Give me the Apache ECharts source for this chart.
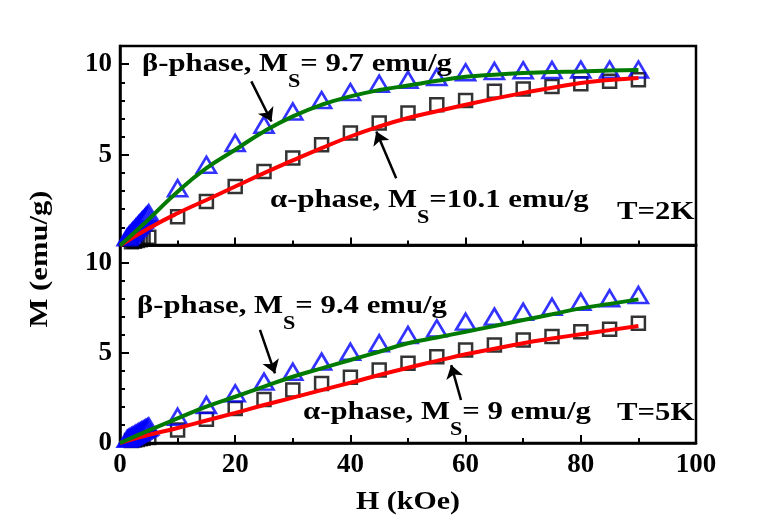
<!DOCTYPE html>
<html><head><meta charset="utf-8">
<script src="https://cdn.jsdelivr.net/npm/echarts@6/dist/echarts.min.js"></script>
<style>html,body{margin:0;padding:0;background:#fff}#c{width:767px;height:529px}</style>
</head><body><div id="c"></div>
<script>
// ---- data ----
const fieldH = [5,10,15,20,25,30,35,40,45,50,55,60,65,70,75,80,85,90];
const fitH = [0,5,10,15,20,25,30,35,40,45,50,55,60,65,70,75,80,85,90];
const lowHBeta = [1.25,1.5,1.75,2,2.25,2.5,2.75,3,3.25,3.5,3.75,4,4.25,4.5,4.75];
const lowHAlpha = [2,2.5,3,3.5,4];

// T = 2K
const beta2K = [1.78,3.16,4.45,5.65,6.66,7.39,8.02,8.46,8.92,9.14,9.29,9.55,9.62,9.66,9.68,9.7,9.7,9.7];
const alpha2K = [0.45,1.59,2.42,3.25,4.08,4.82,5.55,6.2,6.75,7.3,7.76,8.0,8.5,8.63,8.77,8.92,9.05,9.14];
const betaLow2K = [0.45,0.53,0.62,0.71,0.8,0.89,0.98,1.07,1.16,1.25,1.34,1.42,1.51,1.6,1.69];
const alphaLow2K = [0.2,0.24,0.28,0.32,0.36];
const betaFit2K = [0,1.45,2.97,4.26,5.28,6.29,7.12,7.76,8.22,8.57,8.82,9.08,9.3,9.42,9.51,9.57,9.6,9.65,9.68];
const alphaFit2K = [0,0.95,1.78,2.51,3.25,3.99,4.69,5.37,6.01,6.56,7.03,7.4,7.76,8.1,8.41,8.7,8.96,9.12,9.24];

// T = 5K
const beta5K = [0.91,1.46,2.11,2.76,3.41,3.96,4.52,5.07,5.54,6.0,6.37,6.74,7.02,7.29,7.57,7.85,8.04,8.22];
const alpha5K = [0.3,0.72,1.32,1.92,2.42,2.94,3.31,3.65,4.06,4.43,4.79,5.17,5.44,5.72,5.91,6.18,6.32,6.65];
const betaLow5K = [0.23,0.27,0.32,0.36,0.41,0.45,0.5,0.55,0.59,0.64,0.68,0.73,0.77,0.82,0.86];
const alphaLow5K = [0.14,0.17,0.2,0.23,0.26];
const betaFit5K = [0,0.7,1.37,2.02,2.57,3.13,3.68,4.15,4.61,5.07,5.54,5.86,6.18,6.5,6.83,7.15,7.48,7.73,7.98];
const alphaFit5K = [0,0.45,0.83,1.25,1.67,2.11,2.52,2.94,3.35,3.78,4.18,4.56,4.93,5.24,5.54,5.8,6.04,6.27,6.5];

// arrows [tailH, tailM, tipH, tipM]
const arrowBeta2K = [22.8, 9.05, 26.3, 6.84];
const arrowAlpha2K = [47.95, 3.71, 44.5, 6.29];
const arrowBeta5K = [24.3, 6.28, 26.9, 3.87];
const arrowAlpha5K = [59.2, 2.39, 57.5, 4.33];

const xTicks = {min: 0, max: 100, interval: 20};
const yTicks = {min: 0, max: 11, interval: 5};

// ---- chart ----
const FONT = '"Liberation Serif","Times New Roman",serif';
const WIDE = 1.23;
const pair = (hs, vs) => hs.map((h, i) => [h, vs[i]]);

function xAxis(gi, showLabel) {
  return {
    type: 'value', gridIndex: gi, min: xTicks.min, max: xTicks.max, interval: xTicks.interval,
    axisLine: {show: true, onZero: false, lineStyle: {color: '#000', width: 2.5}},
    axisTick: {show: true, inside: true, length: 8, lineStyle: {color: '#000', width: 2}},
    minorTick: {show: true, splitNumber: 2, length: 5, lineStyle: {color: '#000', width: 2}},
    splitLine: {show: false},
    axisLabel: {show: showLabel, color: '#000', fontFamily: FONT, fontWeight: 'bold', fontSize: 27, margin: 9}
  };
}
function yAxis(gi, hideZero) {
  return {
    type: 'value', gridIndex: gi, min: yTicks.min, max: yTicks.max, interval: yTicks.interval,
    axisLine: {show: true, onZero: false, lineStyle: {color: '#000', width: 2.5}},
    axisTick: {show: true, inside: true, length: 9, lineStyle: {color: '#000', width: 2}},
    minorTick: {show: true, splitNumber: 5, length: 5, lineStyle: {color: '#000', width: 2}},
    splitLine: {show: false},
    axisLabel: {show: true, showMaxLabel: false, color: '#000', fontFamily: FONT, fontWeight: 'bold', fontSize: 27, margin: 8,
      formatter: v => (hideZero && v === 0) ? '' : String(v)}
  };
}
function arrow(a) {
  return {
    silent: true, symbol: ['none', 'arrow'], symbolSize: 13,
    lineStyle: {color: '#000', width: 2.5, type: 'solid'},
    itemStyle: {color: '#000'},
    label: {show: false}, emphasis: {disabled: true},
    data: [[{coord: [a[0], a[1]]}, {coord: [a[2], a[3]]}]]
  };
}
function panel(gi, alphaPts, alphaLowPts, alphaFit, betaPts, betaLowPts, betaFit, arrA, arrB) {
  return [
    {type: 'scatter', xAxisIndex: gi, yAxisIndex: gi, symbol: 'rect', symbolSize: 13,
      itemStyle: {color: 'rgba(0,0,0,0)', borderColor: '#000', borderWidth: 2.5},
      data: pair(lowHAlpha, alphaLowPts).concat(pair(fieldH, alphaPts))},
    {type: 'line', xAxisIndex: gi, yAxisIndex: gi, smooth: true, showSymbol: false,
      lineStyle: {color: '#ff0000', width: 4}, data: pair(fitH, alphaFit), markLine: arrow(arrA)},
    {type: 'scatter', xAxisIndex: gi, yAxisIndex: gi, symbol: 'triangle', symbolSize: [19, 16],
      itemStyle: {color: 'rgba(0,0,0,0)', borderColor: '#0000ff', borderWidth: 2.6},
      data: pair(lowHBeta, betaLowPts).concat(pair(fieldH, betaPts))},
    {type: 'line', xAxisIndex: gi, yAxisIndex: gi, smooth: true, showSymbol: false,
      lineStyle: {color: '#007a00', width: 4}, data: pair(fitH, betaFit), markLine: arrow(arrB)}
  ];
}

const txt = (x, y, t) => ({
  type: 'text', x: x, y: y, scaleX: WIDE, silent: true, z: 100,
  style: {
    text: t, fill: '#000', textAlign: 'left', verticalAlign: 'middle', textVerticalAlign: 'middle',
    font: 'bold 25px ' + FONT,
    rich: {
      m: {fill: '#000', fontFamily: FONT, fontWeight: 'bold', fontSize: 25},
      s: {fill: '#000', fontFamily: FONT, fontWeight: 'bold', fontSize: 18, padding: [34, 0, 0, 0]}
    }
  }
});

const chart = echarts.init(document.getElementById('c'), null, {renderer: 'canvas'});
chart.setOption({
  animation: false,
  backgroundColor: '#ffffff',
  grid: [
    {left: 120, right: 71, top: 46, height: 199.5, show: true, borderColor: '#000', borderWidth: 2.5, backgroundColor: 'transparent'},
    {left: 120, right: 71, top: 245, height: 198, show: true, borderColor: '#000', borderWidth: 2.5, backgroundColor: 'transparent'}
  ],
  xAxis: [xAxis(0, false), xAxis(1, true)],
  yAxis: [yAxis(0, true), yAxis(1, false)],
  series: panel(0, alpha2K, alphaLow2K, alphaFit2K, beta2K, betaLow2K, betaFit2K, arrowAlpha2K, arrowBeta2K)
    .concat(panel(1, alpha5K, alphaLow5K, alphaFit5K, beta5K, betaLow5K, betaFit5K, arrowAlpha5K, arrowBeta5K)),
  graphic: [
    txt(142, 65, '{m|β-phase, M}{s|S}{m|= 9.7 emu/g}'),
    txt(270, 201, '{m|α-phase, M}{s|S}{m|=10.1 emu/g}'),
    txt(617, 213, 'T=2K'),
    txt(137, 307, '{m|β-phase, M}{s|S}{m|= 9.4 emu/g}'),
    txt(303, 413, '{m|α-phase, M}{s|S}{m|= 9 emu/g}'),
    txt(617, 414, 'T=5K'),
    {type: 'text', x: 40, y: 259, rotation: Math.PI / 2, scaleX: 1.18, silent: true,
      style: {text: 'M (emu/g)', fill: '#000', font: 'bold 26px ' + FONT, textAlign: 'center', verticalAlign: 'middle', textVerticalAlign: 'middle'}},
    {type: 'text', x: 408, y: 502, scaleX: 1.15, silent: true,
      style: {text: 'H (kOe)', fill: '#000', font: 'bold 26px ' + FONT, textAlign: 'center', verticalAlign: 'middle', textVerticalAlign: 'middle'}}
  ]
});
</script></body></html>
